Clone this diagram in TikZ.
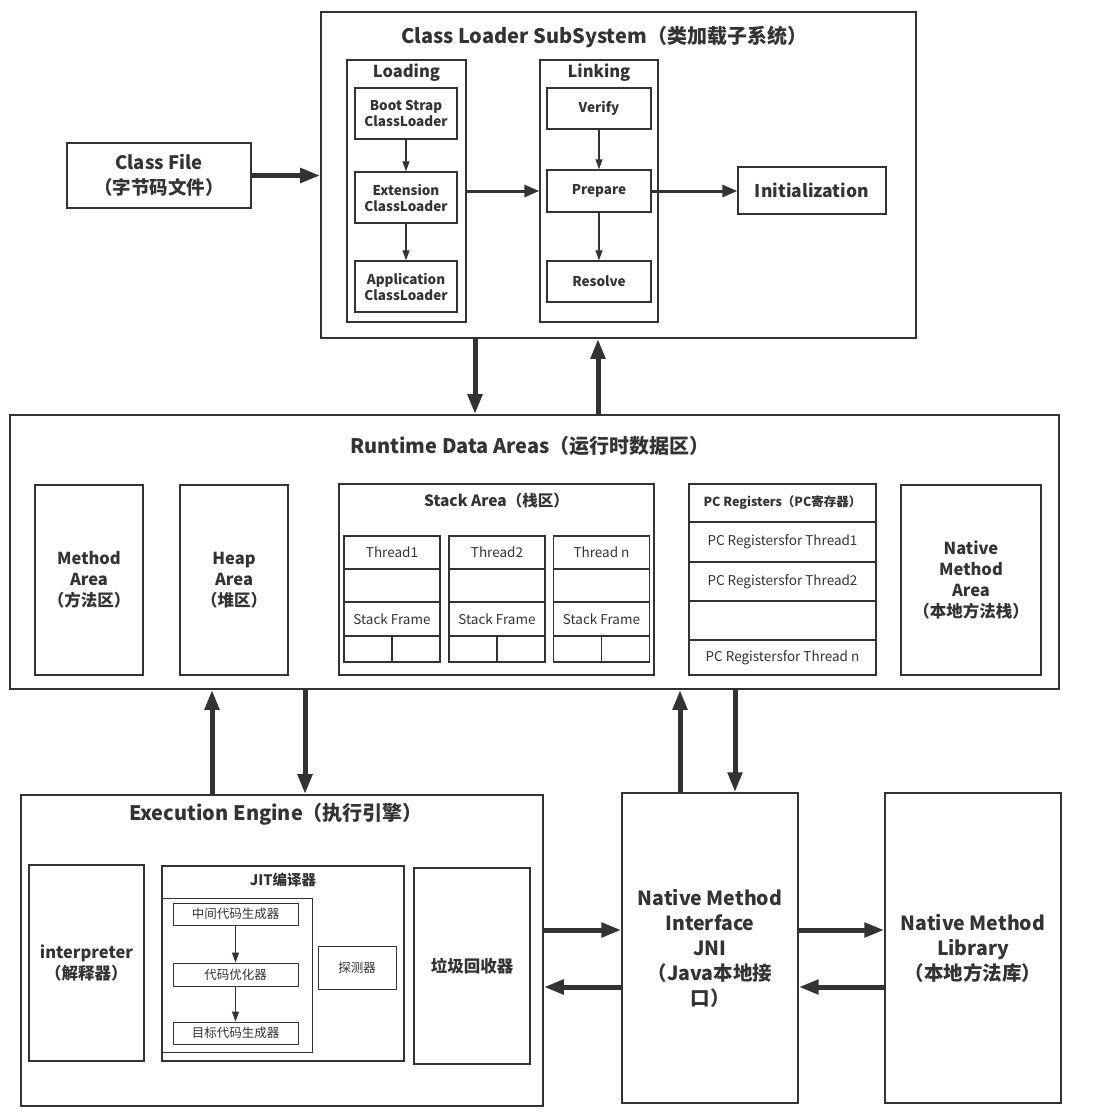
\documentclass[tikz,border=0pt]{standalone}
\usepackage{fontspec}
\setmainfont{Noto Sans CJK SC}
\usetikzlibrary{arrows.meta}
\definecolor{ink}{HTML}{333333}
\newcommand\fsz[2]{\fontsize{#1}{#2}\selectfont}
\tikzset{
    frame/.style={draw=ink,line width=1.6pt,inner sep=0pt},
    part/.style={draw=ink,line width=1.4pt,inner sep=0pt,align=center},
    cell/.style={draw=ink,line width=1.1pt,inner sep=0pt,align=center},
    bus/.style={-{Triangle[length=20pt,width=14pt]},draw=ink,line width=5pt},
    link/.style={-{Triangle[length=15pt,width=12pt]},draw=ink,line width=3pt},
    flow/.style={-{Triangle[length=10pt,width=7pt]},draw=ink,line width=1.2pt},
    head/.style={font=\bfseries\fsz{20}{24},inner sep=0pt},
}

\begin{document}
\begin{tikzpicture}[x=1pt,y=-1pt,every node/.append style={text=ink}]
            \useasboundingbox (0,0) rectangle (1102,1120);
            % class loader subsystem
            \node[frame,minimum width=595,minimum height=326] (cl) at (618.5,175) {};
            \node[head] (clt) at (604,37) {Class Loader SubSystem（类加载子系统）};
            \node[part,minimum width=184,minimum height=65,font=\bfseries\fsz{18.5}{25}] (cf) at (159,175.5) {Class File\\（字节码文件）};
            \node[part,minimum width=119,minimum height=262] (load) at (406.5,191) {};
            \node[font=\bfseries\fsz{16.5}{20},inner sep=0pt] (loadt) at (406.5,73) {Loading};
            \node[part,minimum width=102,minimum height=51,font=\bfseries\fsz{13.5}{16}] (boot) at (406,113.5) {Boot Strap\\ClassLoader};
            \node[part,minimum width=102,minimum height=51,font=\bfseries\fsz{13.5}{16}] (ext) at (406,197.5) {Extension\\ClassLoader};
            \node[part,minimum width=102,minimum height=51,font=\bfseries\fsz{13.5}{16}] (app) at (406,286.5) {Application\\ClassLoader};
            \node[part,minimum width=118,minimum height=262] (lnk) at (599,191) {};
            \node[font=\bfseries\fsz{16.5}{20},inner sep=0pt] (lnkt) at (599,73) {Linking};
            \node[part,minimum width=104,minimum height=41,font=\bfseries\fsz{13.5}{16}] (ver) at (599,108.5) {Verify};
            \node[part,minimum width=104,minimum height=42,font=\bfseries\fsz{13.5}{16}] (prep) at (599,191) {Prepare};
            \node[part,minimum width=104,minimum height=41,font=\bfseries\fsz{13.5}{16}] (res) at (599,281.5) {Resolve};
            \node[part,minimum width=148,minimum height=47,font=\bfseries\fsz{17.5}{20}] (init) at (812,190.5) {Initialization};
            \draw[bus] (cf.east) -- (cl.west |- cf.east);
            \draw[link] (load.east) -- (lnk.west);
            \draw[link] (prep.east) -- (init.west |- prep.east);
            \draw[flow] (boot) -- (ext);
            \draw[flow] (ext) -- (app);
            \draw[flow] (ver) -- (prep);
            \draw[flow] (prep) -- (res);
            % runtime data areas
            \node[frame,minimum width=1049,minimum height=274] (rt) at (534.5,552) {};
            \node[head] (rtt) at (530,446) {Runtime Data Areas（运行时数据区）};
            \coordinate (xa) at (475,0);
            \coordinate (xb) at (598,0);
            \draw[bus] (cl.south -| xa) -- (rt.north -| xa);
            \draw[bus] (rt.north -| xb) -- (cl.south -| xb);
            \node[part,minimum width=108,minimum height=190,font=\bfseries\fsz{16.5}{21}] (meth) at (89,580) {Method\\Area\\（方法区）};
            \node[part,minimum width=108,minimum height=190,font=\bfseries\fsz{16.5}{21}] (heap) at (234,580) {Heap\\Area\\（堆区）};
            \node[part,minimum width=315,minimum height=191] (stk) at (496.5,579.5) {};
            \node[font=\bfseries\fsz{15.5}{18},inner sep=0pt] (stkt) at (496.5,501) {Stack Area（栈区）};
            \foreach \c/\t [count=\i] in {392/Thread1,497/Thread2,601.5/Thread n}{
                \node[cell,minimum width=96,minimum height=33,font=\fsz{13.5}{16}] (thr\i) at (\c,552.5) {\t};
                \node[cell,minimum width=96,minimum height=33] (gap\i) at (\c,585.5) {};
                \node[cell,minimum width=96,minimum height=34,font=\fsz{13.5}{16}] (sf\i) at (\c,619) {Stack Frame};
                \node[cell,minimum width=48,minimum height=26] (sl\i) at (\c-24,649) {};
                \node[cell,minimum width=48,minimum height=26] (sr\i) at (\c+24,649) {};
            }
            \node[cell,minimum width=187,minimum height=38,font=\bfseries\fsz{12.5}{15}] (pc) at (782.5,503) {PC Registers（PC寄存器）};
            \foreach \y/\h/\t [count=\i] in {542/40/PC Registersfor Thread1,581.5/39/PC Registersfor Thread2,620.5/39/,657.5/35/PC Registersfor Thread n}
                \node[cell,minimum width=187,minimum height=\h,font=\fsz{13.5}{16}] (pc\i) at (782.5,\y) {\t};
            \node[part,minimum width=140,minimum height=190,font=\bfseries\fsz{16.5}{21}] (nma) at (971,580) {Native\\Method\\Area\\（本地方法栈）};
            % execution engine
            \node[frame,minimum width=522,minimum height=311] (ee) at (282,950.5) {};
            \node[head] (eet) at (276,814) {Execution Engine（执行引擎）};
            \node[part,minimum width=115,minimum height=196,font=\bfseries\fsz{16.5}{21}] (itp) at (86.5,963) {interpreter\\（解释器）};
            \node[part,minimum width=242,minimum height=195] (jit) at (283,963.5) {};
            \node[font=\bfseries\fsz{14.5}{17},inner sep=0pt] (jitt) at (283,880) {JIT编译器};
            \node[cell,line width=0.9pt,minimum width=150,minimum height=154] (opt) at (237,975) {};
            \node[cell,line width=0.9pt,minimum width=125,minimum height=22,font=\fsz{12.5}{15}] (mid) at (235.5,914) {中间代码生成器};
            \node[cell,line width=0.9pt,minimum width=125,minimum height=23,font=\fsz{12.5}{15}] (cde) at (235.5,974.5) {代码优化器};
            \node[cell,line width=0.9pt,minimum width=125,minimum height=22,font=\fsz{12.5}{15}] (tgt) at (235.5,1033) {目标代码生成器};
            \node[cell,line width=0.9pt,minimum width=78,minimum height=43,font=\fsz{12.5}{15}] (prb) at (357,967.5) {探测器};
            \draw[flow] (mid) -- (cde);
            \draw[flow] (cde) -- (tgt);
            \node[part,minimum width=116,minimum height=196,font=\bfseries\fsz{16.5}{21}] (gc) at (472,966) {垃圾回收器};
            % native interface and library
            \node[part,minimum width=176,minimum height=310,font=\bfseries\fsz{19.5}{25}] (jni) at (710,948) {Native Method\\Interface\\JNI\\（Java本地接\\口）};
            \node[part,minimum width=176,minimum height=310,font=\bfseries\fsz{19.5}{25}] (nml) at (973,948) {Native Method\\Library\\（本地方法库）};
            \coordinate (xc) at (212,0);
            \coordinate (xd) at (305,0);
            \coordinate (xe) at (680,0);
            \coordinate (xf) at (735,0);
            \coordinate (ya) at (0,930);
            \coordinate (yb) at (0,987);
            \draw[bus] (ee.north -| xc) -- (rt.south -| xc);
            \draw[bus] (rt.south -| xd) -- (ee.north -| xd);
            \draw[bus] (jni.north -| xe) -- (rt.south -| xe);
            \draw[bus] (rt.south -| xf) -- (jni.north -| xf);
            \draw[bus] (ee.east |- ya) -- (jni.west |- ya);
            \draw[bus] (jni.west |- yb) -- (ee.east |- yb);
            \draw[bus] (jni.east |- ya) -- (nml.west |- ya);
            \draw[bus] (nml.west |- yb) -- (jni.east |- yb);
        \end{tikzpicture}
\end{document}
